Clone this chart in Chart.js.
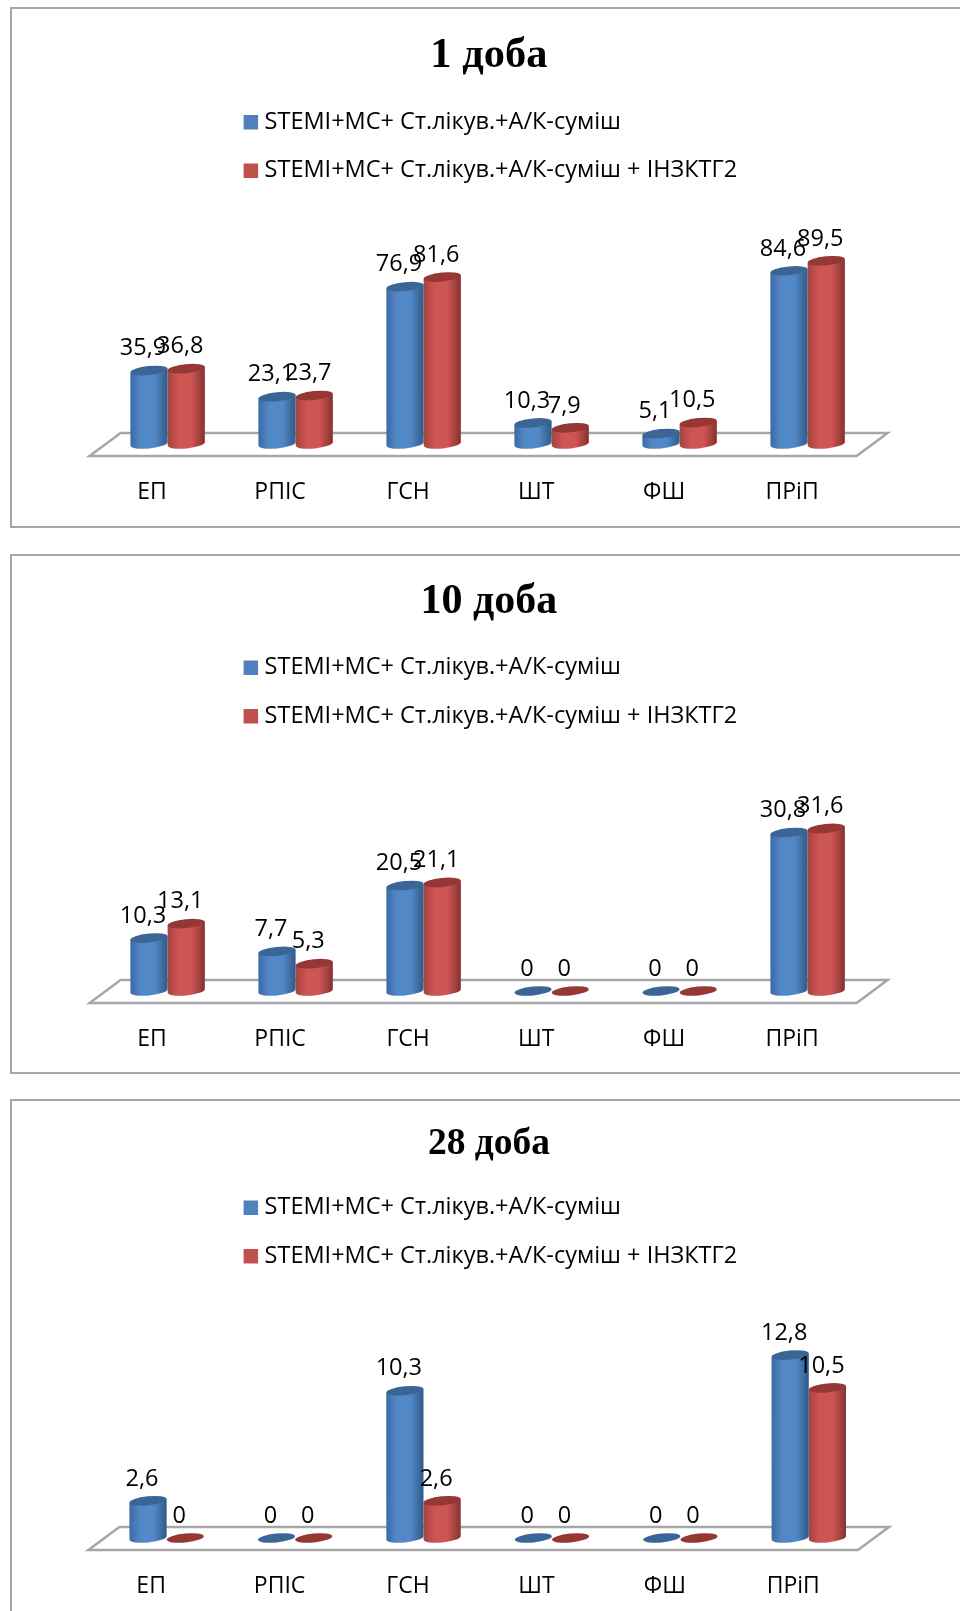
<!DOCTYPE html>
<html><head><meta charset="utf-8">
<script src="https://cdn.jsdelivr.net/npm/chart.js@4/dist/chart.umd.js"></script>
<style>
html,body{margin:0;padding:0;background:#fff;overflow:hidden;width:960px;height:1611px}
.box{position:absolute;left:10px;width:960px;box-sizing:border-box;border:2px solid #a6a6a6;background:#fff;overflow:hidden}
canvas{display:block}
</style></head><body>
<div class="box" style="top:7px;height:521px"><canvas id="c1"></canvas></div>
<div class="box" style="top:554px;height:520px"><canvas id="c2"></canvas></div>
<div class="box" style="top:1099px;height:530px"><canvas id="c3"></canvas></div>
<script>
const categories = ["ЕП","РПІС","ГСН","ШТ","ФШ","ПРіП"];
const seriesNames = ["STEMI+МС+ Ст.лікув.+А/К-суміш","STEMI+МС+ Ст.лікув.+А/К-суміш + ІНЗКТГ2"];
const day1A = [35.9,23.1,76.9,10.3,5.1,84.6];
const day1B = [36.8,23.7,81.6,7.9,10.5,89.5];
const day10A = [10.3,7.7,20.5,0,0,30.8];
const day10B = [13.1,5.3,21.1,0,0,31.6];
const day28A = [2.6,0,10.3,0,0,12.8];
const day28B = [0,0,2.6,0,0,10.5];
const FONT = '"Open Sans","Noto Sans",sans-serif';
const BLUE = '#4f81bd', RED = '#c0504d';
const shades = {
  [BLUE]:{left:'#3c6ba3',mid:'#5388c8',right:'#2f5a88',top:'#3b6596'},
  [RED]:{left:'#a84341',mid:'#cd5553',right:'#853331',top:'#953735'}
};
Chart.BarElement.prototype.draw = function(ctx){
  const s = shades[this.options.backgroundColor] || shades[BLUE];
  const rx = this.width/2, ry = 4.5, rot = -0.1, x = this.x, top = this.y, base = this.base;
  const dy = rx*Math.sin(rot);
  ctx.save();
  if (base - top > 0.5){
    const g = ctx.createLinearGradient(x-rx,0,x+rx,0);
    g.addColorStop(0,s.left);g.addColorStop(.3,s.mid);g.addColorStop(.65,s.mid);g.addColorStop(1,s.right);
    ctx.fillStyle = g;
    ctx.beginPath();
    ctx.moveTo(x-rx,top-dy);
    ctx.lineTo(x+rx,top+dy);
    ctx.lineTo(x+rx,base+dy);
    ctx.ellipse(x,base,rx,ry,rot,0,Math.PI);
    ctx.closePath();
    ctx.fill();
  }
  ctx.fillStyle = s.top;
  ctx.beginPath();
  ctx.ellipse(x,top,rx,ry,rot,0,Math.PI*2);
  ctx.fill();
  ctx.restore();
};
const LEG_PAD = 25;
const scene = {
  id:'scene',
  afterLayout(chart,a,o){
    chart.legend.left = o.legendX - LEG_PAD;
    chart.titleBlock.left += o.titleShift;
  },
  beforeDatasetsDraw(chart){
    const {ctx,chartArea:c} = chart;
    const b = c.bottom;
    ctx.save();
    ctx.strokeStyle='#a6a6a6';ctx.lineWidth=2.5;ctx.lineJoin='miter';
    ctx.beginPath();
    ctx.moveTo(c.left-14,b+12);ctx.lineTo(c.left+17,b-11);ctx.lineTo(c.right+16,b-11);ctx.lineTo(c.right-15,b+12);ctx.closePath();
    ctx.stroke();ctx.restore();
  },
  afterDatasetsDraw(chart){
    const {ctx} = chart;
    ctx.save();
    ctx.font='23.5px '+FONT;ctx.fillStyle='#000';ctx.textAlign='center';ctx.textBaseline='middle';
    chart.data.datasets.forEach((d,i)=>{
      chart.getDatasetMeta(i).data.forEach((el,j)=>{
        ctx.fillText(String(d.data[j]).replace('.',','),el.x-6,el.y-22);
      });
    });
    ctx.restore();
  }
};
function build(id,h,title,titleSize,a,b,yMax,pad,titlePad){
  const cv=document.getElementById(id);
  cv.width=958;cv.height=h;
  new Chart(cv,{
    type:'bar',
    data:{labels:categories,datasets:[
      {label:seriesNames[0],data:a,backgroundColor:BLUE,borderColor:BLUE,borderWidth:10.5,clip:false},
      {label:seriesNames[1],data:b,backgroundColor:RED,borderColor:RED,borderWidth:10.5,clip:false}]},
    options:{
      responsive:false,maintainAspectRatio:false,animation:false,
      layout:{padding:{left:pad.l,right:pad.r,top:0,bottom:pad.b}},
      datasets:{bar:{categoryPercentage:pad.w,barPercentage:1}},
      scales:{
        x:{grid:{display:false},border:{display:false},
           ticks:{color:'#000',font:{family:FONT,size:23},padding:27,labelOffset:-15.5,maxRotation:0,autoSkip:false}},
        y:{display:false,min:0,max:yMax}
      },
      plugins:{
        tooltip:{enabled:false},
        title:{display:true,text:title,color:'#000',font:{family:'"Liberation Serif",serif',size:titleSize,weight:'bold'},padding:titlePad},
        legend:{position:'top',align:'start',labels:{font:{family:FONT,size:23.5},color:'#000',boxWidth:4,boxHeight:4,padding:LEG_PAD}},
        scene:{legendX:pad.lx,titleShift:pad.ts}
      }
    },
    plugins:[scene]
  });
}
build('c1',525,'1 доба',42.5,day1A,day1B,122.9,{l:91.6,r:98.4,b:0.4,w:.582,lx:236.85,ts:2.5},{top:21.5,bottom:4});
build('c2',525,'10 доба',42,day10A,day10B,49.2,{l:91.6,r:98.4,b:0.4,w:.582,lx:236.85,ts:2.5},{top:21,bottom:3.5});
build('c3',527,'28 доба',37.5,day28A,day28B,18.2,{l:90.4,r:97,b:0.4,w:.58,lx:236.85,ts:2.5},{top:20.4,bottom:4.5});
</script>
</body></html>
